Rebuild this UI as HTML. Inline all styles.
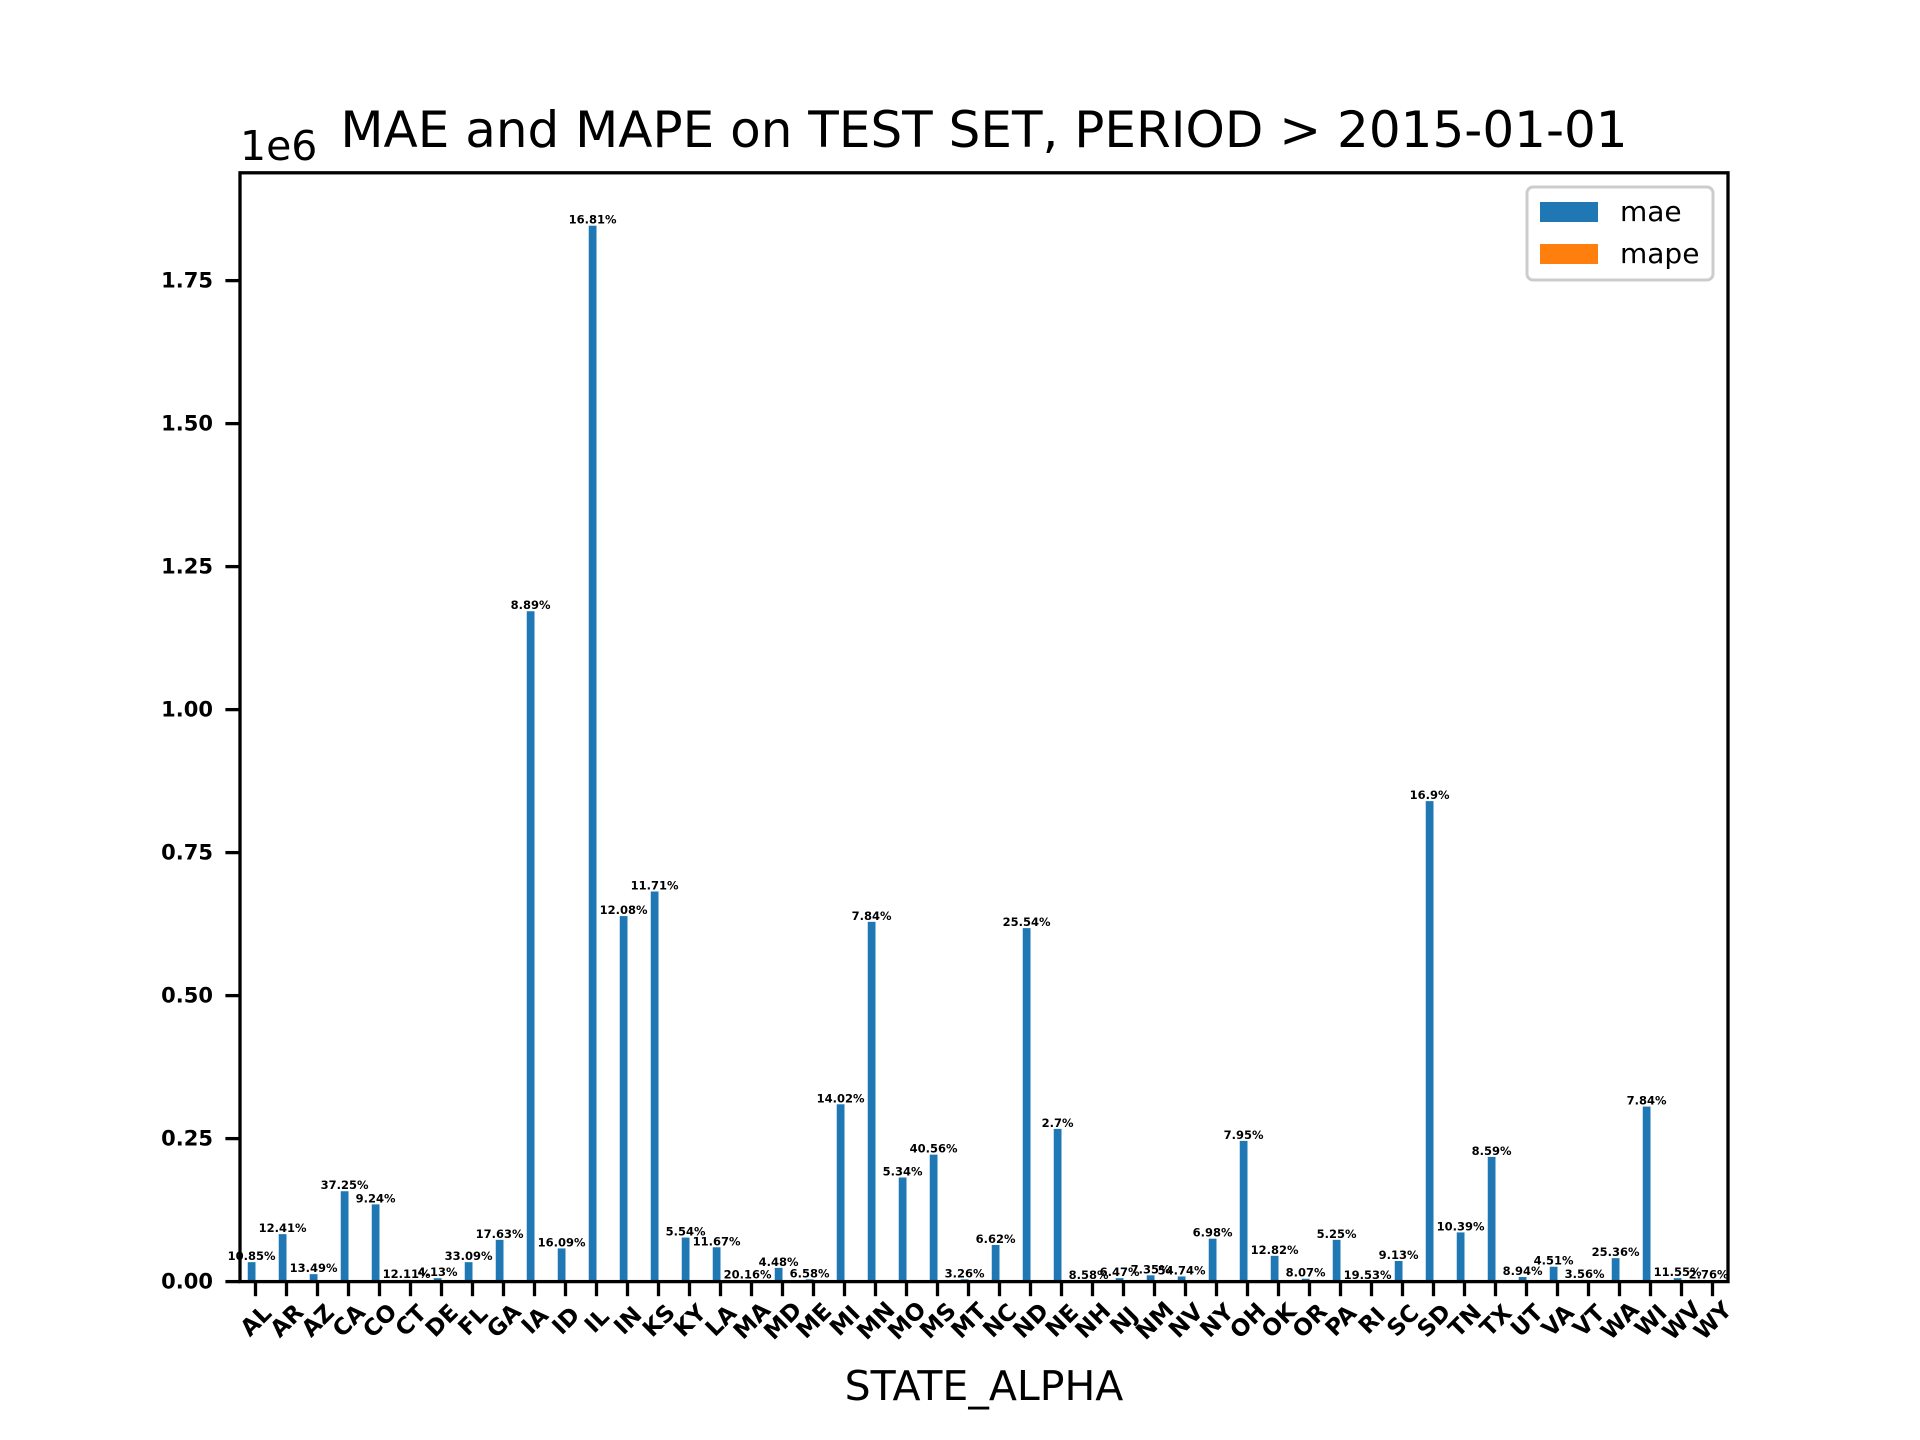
<!DOCTYPE html>
<html><head><meta charset="utf-8"><style>
html,body{margin:0;padding:0;background:#fff;}
svg{display:block;font-family:"DejaVu Sans","Liberation Sans",sans-serif;}
</style></head><body>
<svg id="chart" width="1920" height="1440" viewBox="0 0 1920 1440" xmlns="http://www.w3.org/2000/svg">
<rect width="1920" height="1440" fill="#fff"/>
<text x="984" y="147" font-size="50" text-anchor="middle" fill="#000">MAE and MAPE on TEST SET, PERIOD &gt; 2015-01-01</text>
<text x="240" y="160" font-size="41" fill="#000">1e6</text>
<text x="984" y="1400" font-size="41" text-anchor="middle" fill="#000">STATE_ALPHA</text>
<g id="bars"></g>
<g id="labels"></g>
<g id="yaxis"></g>
<g id="xaxis"></g>
<rect x="240" y="172.8" width="1488" height="1108.8" fill="none" stroke="#000" stroke-width="3.3"/>
<g>
<rect x="1527" y="187" width="186" height="93" rx="6" fill="#fff" fill-opacity="0.8" stroke="#ccc" stroke-width="3"/>
<rect x="1540" y="202" width="58" height="20" fill="#1f77b4"/>
<text x="1620" y="221" font-size="28" fill="#000">mae</text>
<rect x="1540" y="244" width="58" height="20" fill="#ff7f0e"/>
<text x="1620" y="263" font-size="28" fill="#000">mape</text>
</g>
</svg>
<script>
const categories = ["AL","AR","AZ","CA","CO","CT","DE","FL","GA","IA","ID","IL","IN","KS","KY","LA","MA","MD","ME","MI","MN","MO","MS","MT","NC","ND","NE","NH","NJ","NM","NV","NY","OH","OK","OR","PA","RI","SC","SD","TN","TX","UT","VA","VT","WA","WI","WV","WY"];
const maeValues = [0.034,0.083,0.013,0.158,0.135,0.003,0.006,0.034,0.073,1.172,0.058,1.846,0.639,0.682,0.077,0.060,0.002,0.024,0.004,0.310,0.629,0.182,0.222,0.004,0.064,0.618,0.267,0.001,0.006,0.011,0.009,0.075,0.246,0.045,0.005,0.073,0.001,0.036,0.840,0.086,0.218,0.008,0.026,0.003,0.041,0.306,0.006,0.002];
const mapeLabels = ["10.85%","12.41%","13.49%","37.25%","9.24%","12.11%","4.13%","33.09%","17.63%","8.89%","16.09%","16.81%","12.08%","11.71%","5.54%","11.67%","20.16%","4.48%","6.58%","14.02%","7.84%","5.34%","40.56%","3.26%","6.62%","25.54%","2.7%","8.58%","6.47%","7.35%","54.74%","6.98%","7.95%","12.82%","8.07%","5.25%","19.53%","9.13%","16.9%","10.39%","8.59%","8.94%","4.51%","3.56%","25.36%","7.84%","11.55%","2.76%"];
const yTicks = [0,0.25,0.5,0.75,1.0,1.25,1.5,1.75];
const yTickLabels = ["0.00","0.25","0.50","0.75","1.00","1.25","1.50","1.75"];

const NS="http://www.w3.org/2000/svg";
const L=240,R=1728,T=172.8,B=1281.6,YMAX=1.9385;
const n=categories.length, step=(R-L)/n;
function xc(i){return L+step*(i+0.5);}
function yv(v){return B-(v/YMAX)*(B-T);}
function mk(tag,attrs,parent){const e=document.createElementNS(NS,tag);for(const k in attrs)e.setAttribute(k,attrs[k]);parent.appendChild(e);return e;}
const gb=document.getElementById('bars'),gl=document.getElementById('labels'),gy=document.getElementById('yaxis'),gx=document.getElementById('xaxis');
const bw=step*0.25;
categories.forEach((c,i)=>{
  const cx=xc(i)-step*0.125, v=maeValues[i];
  const r=mk('rect',{x:cx-bw/2,y:yv(v),width:bw,height:B-yv(v),fill:'#1f77b4'},gb);
  
  
  const t=mk('text',{x:cx,y:yv(v)-2,'font-size':11.5,'font-weight':'bold','text-anchor':'middle',fill:'#000'},gl);
  t.textContent=mapeLabels[i];
  
  
  const x=xc(i);
  const tk=mk('line',{x1:x,x2:x,y1:B,y2:B+14.6,stroke:'#000','stroke-width':3.3},gx);
  
  
  const fs=23, w=c.length*fs*0.75, h=fs*0.72;
  const cy=B+14.6+6+(w+h)*0.707/2;
  const lt=mk('text',{x:x,y:cy+h/2,'font-size':fs,'font-weight':'bold','text-anchor':'middle',fill:'#000',transform:'rotate(-45 '+x+' '+cy+')'},gx);
  lt.textContent=c;
  
  
});
yTicks.forEach((v,i)=>{
  const y=yv(v);
  const tk=mk('line',{x1:L-14.6,x2:L,y1:y,y2:y,stroke:'#000','stroke-width':3.3},gy);
  
  
  const t=mk('text',{x:L-27,y:y+7,'font-size':21,'font-weight':'bold','text-anchor':'end',fill:'#000'},gy);
  t.textContent=yTickLabels[i];
  
  
});
</script>
</body></html>
